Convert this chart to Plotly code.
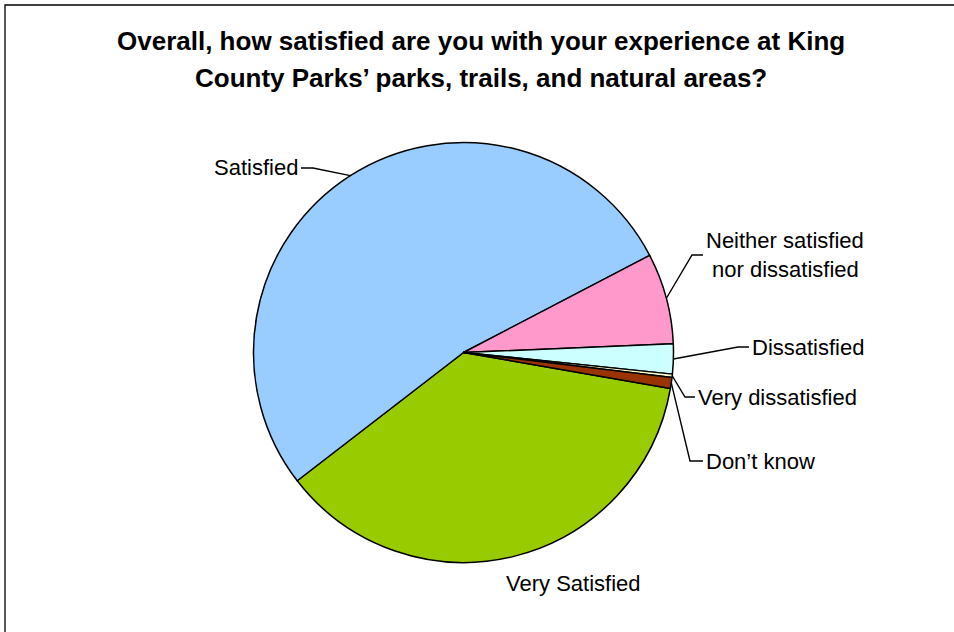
import math
import plotly.graph_objects as go

# ---- data (percent of respondents) ----
categories = ["Very Satisfied", "Satisfied", "Neither satisfied nor dissatisfied",
              "Dissatisfied", "Very dissatisfied", "Don\u2019t know"]
values = [36.8, 52.8, 7.0, 2.3, 0.25, 0.85]
colors = ["#99CC00", "#99CCFF", "#FF99CC", "#CCFFFF", "#FFFFCC", "#993300"]
title_lines = ["Overall, how satisfied are you with your experience at King",
               "County Parks\u2019 parks, trails, and natural areas?"]

# ---- layout ----
W, H = 954, 632
CX, CY, R = 463.5, 352.5, 210.0
ROT = 99.87  # start angle of first slice, clockwise from 12 o'clock
FONT = "Liberation Sans, Arial, sans-serif"
LABEL_SIZE = 22
TITLE_SIZE = 26


def px(x):
    return x / W


def py(y):
    return 1 - y / H


fig = go.Figure(go.Pie(
    labels=categories, values=values, sort=False, direction="clockwise",
    rotation=ROT, textinfo="none", hoverinfo="label+percent",
    marker=dict(colors=colors, line=dict(color="black", width=1.5)),
    domain=dict(x=[px(CX - R), px(CX + R)], y=[py(CY + R), py(CY - R)]),
    showlegend=False,
))

# mid-angle edge point for each slice (from the data)
total = sum(values)
edges = {}
acc = 0.0
for c, v in zip(categories, values):
    mid = ROT + (acc + v / 2) / total * 360.0
    a = math.radians(mid)
    edges[c] = (CX + R * math.sin(a), CY - R * math.cos(a))
    acc += v

# label placement: (elbow point, text anchor point, anchor side)
label_layout = {
    "Satisfied": ((313, 168), (301, 168), "right"),
    "Neither satisfied nor dissatisfied": ((692, 255), (703, 255), None),
    "Dissatisfied": ((738, 347), (749, 347), "left"),
    "Very dissatisfied": ((685, 397), (695, 397), "left"),
    "Don\u2019t know": ((690, 461), (703, 461), "left"),
}

shapes = []
annotations = []
for c, (elbow, end, side) in label_layout.items():
    ex, ey = edges[c]
    path = f"M {px(ex)} {py(ey)} L {px(elbow[0])} {py(elbow[1])} L {px(end[0])} {py(end[1])}"
    shapes.append(dict(type="path", xref="paper", yref="paper", path=path,
                       line=dict(color="black", width=1.4)))
    if side is not None:
        annotations.append(dict(x=px(end[0] + (1 if side == "left" else -1)), y=py(end[1]),
                                xref="paper", yref="paper", text=c, showarrow=False,
                                xanchor=side, yanchor="middle",
                                font=dict(family=FONT, size=LABEL_SIZE, color="black")))

# two-line label for "Neither..."
for txt, yy in (("Neither satisfied", 240), ("nor dissatisfied", 269)):
    annotations.append(dict(x=px(785), y=py(yy), xref="paper", yref="paper", text=txt,
                            showarrow=False, xanchor="center", yanchor="middle",
                            font=dict(family=FONT, size=LABEL_SIZE, color="black")))

# Very Satisfied label (no leader)
annotations.append(dict(x=px(573), y=py(583), xref="paper", yref="paper",
                        text="Very Satisfied", showarrow=False, xanchor="center",
                        yanchor="middle", font=dict(family=FONT, size=LABEL_SIZE, color="black")))

# title
for txt, yy in zip(title_lines, (41, 78)):
    annotations.append(dict(x=px(481), y=py(yy), xref="paper", yref="paper",
                            text=f"<b>{txt}</b>", showarrow=False, xanchor="center",
                            yanchor="middle", font=dict(family=FONT, size=TITLE_SIZE, color="black")))

# chart border
shapes.append(dict(type="rect", xref="paper", yref="paper", x0=px(5), y0=-0.02,
                   x1=1.02, y1=py(5), line=dict(color="black", width=1.3)))

fig.update_layout(
    width=W, height=H, margin=dict(l=0, r=0, t=0, b=0),
    paper_bgcolor="white", plot_bgcolor="white",
    shapes=shapes, annotations=annotations,
)

fig.write_html("out.html", config={"displayModeBar": False},
               post_script="document.body.style.margin='0';")
